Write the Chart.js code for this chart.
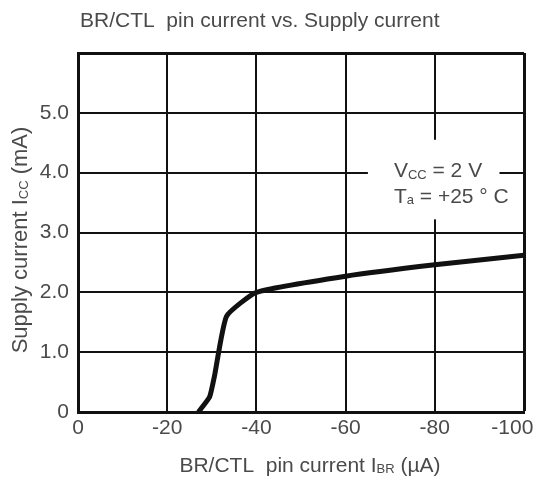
<!DOCTYPE html>
<html>
<head>
<meta charset="utf-8">
<script src="https://cdn.jsdelivr.net/npm/chart.js@4"></script>
<style>
  html, body { margin: 0; padding: 0; background: #fff; }
  #wrap { width: 541px; height: 486px; }
</style>
</head>
<body>
<div id="wrap"><canvas id="c" width="541" height="486"></canvas></div>
<script>
const pinCurrent = [-27, -29.5, -30.6, -33.3, -40, -60, -80, -100];
const supplyCurrent = [0, 0.25, 0.6, 1.6, 2.0, 2.27, 2.46, 2.62];
const xTicks = [0, -20, -40, -60, -80, -100];
const yTicks = [0, 1, 2, 3, 4, 5, 6];
const yTickLabels = ["0", "1.0", "2.0", "3.0", "4.0", "5.0", ""];

const FONT = "Arial, 'Liberation Sans', sans-serif";
const TEXT = "#4a4a4a";
const INK = "#111";

// draw a line of text made of [string, isSubscript] parts
function richText(ctx, parts, x, y, size, align) {
  ctx.save();
  ctx.textBaseline = "alphabetic";
  ctx.textAlign = "left";
  let total = 0;
  parts.forEach(p => {
    ctx.font = (p[1] ? Math.round(size * 0.6) : size) + "px " + FONT;
    total += ctx.measureText(p[0]).width;
  });
  let cx = align === "center" ? x - total / 2 : x;
  parts.forEach(p => {
    ctx.font = (p[1] ? Math.round(size * 0.6) : size) + "px " + FONT;
    ctx.fillText(p[0], cx, y + (p[1] ? size * 0.05 : 0));
    cx += ctx.measureText(p[0]).width;
  });
  ctx.restore();
}

const decor = {
  id: "decor",
  beforeDatasetsDraw(chart) {
    const ctx = chart.ctx;
    const xs = chart.scales.x, ys = chart.scales.y;
    // white box behind the condition note, cutting the grid
    const x0 = xs.getPixelForValue(-65), x1 = xs.getPixelForValue(-94.5);
    const y0 = ys.getPixelForValue(4.55), y1 = ys.getPixelForValue(3.22);
    ctx.save();
    ctx.fillStyle = "#fff";
    ctx.fillRect(x0, y0, x1 - x0, y1 - y0);
    ctx.fillStyle = TEXT;
    richText(ctx, [["V", false], ["CC", true], [" = 2 V", false]], x0 + 26, ys.getPixelForValue(3.92), 21, "left");
    richText(ctx, [["T", false], ["a", true], [" = +25 \u00b0 C", false]], x0 + 26, ys.getPixelForValue(3.5), 21, "left");
    ctx.restore();
  },
  afterDraw(chart) {
    const ctx = chart.ctx;
    ctx.save();
    ctx.fillStyle = TEXT;
    richText(ctx, [["BR/CTL  pin current vs. Supply current", false]], 80, 27, 21, "left");
    richText(ctx, [["BR/CTL  pin current I", false], ["BR", true], [" (\u00b5A)", false]], 310, 472, 21, "center");
    ctx.translate(27, 240);
    ctx.rotate(-Math.PI / 2);
    richText(ctx, [["Supply current I", false], ["CC", true], [" (mA)", false]], 0, 0, 22, "center");
    ctx.restore();
  }
};

new Chart(document.getElementById("c"), {
  type: "line",
  data: {
    datasets: [{
      data: pinCurrent.map((v, i) => ({ x: v, y: supplyCurrent[i] })),
      borderColor: INK,
      borderWidth: 5,
      pointRadius: 0,
      tension: 0.15,
      fill: false
    }]
  },
  options: {
    responsive: false,
    animation: false,
    layout: { padding: { top: 53, right: 17, left: 0, bottom: 0 } },
    plugins: { legend: { display: false }, tooltip: { enabled: false } },
    scales: {
      x: {
        type: "linear",
        min: -100,
        max: 0,
        reverse: true,
        afterBuildTicks: s => { s.ticks = xTicks.map(v => ({ value: v })); },
        afterFit: s => { s.height = 74; s.paddingLeft = 0; s.paddingRight = 0; },
        ticks: {
          color: TEXT,
          font: { size: 21, family: FONT },
          padding: 4,
          maxRotation: 0,
          autoSkip: false,
          // last label sits a little left of its grid line, as in the original
          callback: v => (v === 0 ? "0" : v === -100 ? "-100    " : "-" + Math.abs(v))
        },
        grid: {
          color: INK,
          lineWidth: c => (c.tick && c.tick.value === -100 ? 3 : 2),
          drawTicks: false
        },
        border: { color: INK, width: 3 }
      },
      y: {
        type: "linear",
        min: 0,
        max: 6,
        afterBuildTicks: s => { s.ticks = yTicks.map(v => ({ value: v })); },
        afterFit: s => { s.width = 78; s.paddingTop = 0; s.paddingBottom = 0; },
        ticks: {
          color: TEXT,
          font: { size: 21, family: FONT },
          padding: 9,
          autoSkip: false,
          callback: v => yTickLabels[yTicks.indexOf(v)]
        },
        grid: {
          color: INK,
          lineWidth: c => (c.tick && c.tick.value === 6 ? 3 : 2),
          drawTicks: false
        },
        border: { color: INK, width: 3 }
      }
    }
  },
  plugins: [decor]
});
</script>
</body>
</html>
